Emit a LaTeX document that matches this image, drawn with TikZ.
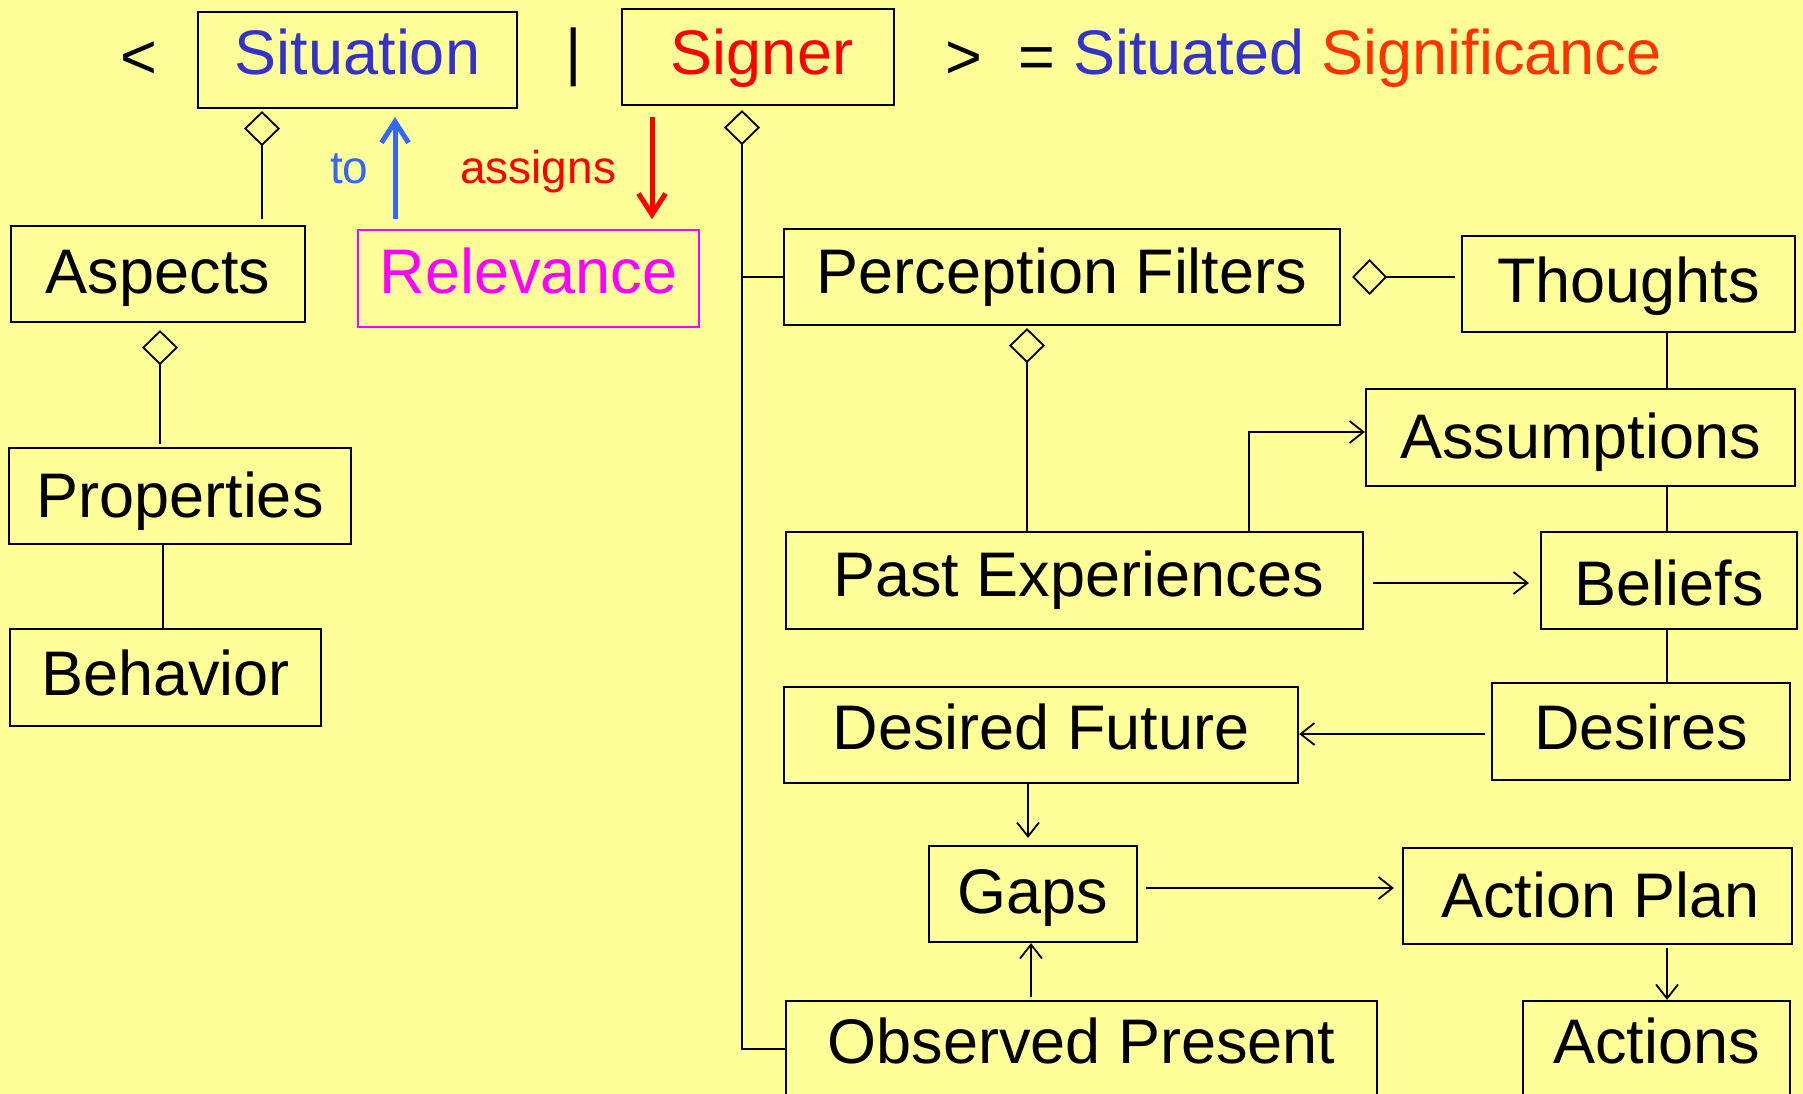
\documentclass[tikz,border=0pt]{standalone}
\usepackage{fontspec}
\setmainfont{Liberation Sans}
\usetikzlibrary{arrows.meta}
\definecolor{bg}{HTML}{FFFF99}
\definecolor{sitblue}{HTML}{3333CC}
\definecolor{toblue}{HTML}{3366FF}
\definecolor{sigred}{HTML}{FF0000}
\definecolor{signif}{HTML}{FF3300}
\definecolor{relmag}{HTML}{FF00FF}
\begin{document}
\begin{tikzpicture}[x=1pt,y=-1pt,
  box/.style={draw=black, line width=2.2pt, inner sep=0pt, minimum height=96pt,
              text depth=13pt, text height=#1,
              font=\fontsize{63}{70}\selectfont},
  box/.default=45pt,
  ttl/.style={inner sep=0pt, font=\fontsize{63}{70}\selectfont},
  lbl/.style={inner sep=0pt, font=\fontsize{46}{52}\selectfont},
  conn/.style={line width=1.8pt},
  agg/.style={line width=1.8pt, {Diamond[open, length=35pt, width=36pt, line width=1.8pt]}-},
  arr/.style={line width=1.8pt, -{Straight Barb[length=14pt, width=22pt, line width=1.8pt]}},
  bigarr/.style={line width=5pt, -{Straight Barb[length=21pt, width=27pt, line width=5pt]}}
]
\useasboundingbox (0,0) rectangle (1803,1094);
\clip (0,0) rectangle (1803,1094);
\fill[bg] (0,0) rectangle (1803,1094);

% title row
\node[ttl, anchor=base] (lt) at (139,79) {<};
\node[box=43pt, minimum width=319pt, text=sitblue] (sit) at (357.5,60) {Situation};
\node[ttl, anchor=base] (bar) at (574,74) {|};
\node[box=49pt, minimum width=272pt, text=sigred] (sig) at (758,57) {\hspace*{8pt}Signer};
\node[ttl, anchor=base] (gt) at (964,79) {>};
\node[ttl, anchor=base] (eq) at (1037,79) {=};
\node[ttl, anchor=base west] (ss) at (1073,75) {\textcolor{sitblue}{Situated} \textcolor{signif}{Significance}};

% left column
\node[box=51pt, minimum width=294pt] (asp) at (158,274) {Aspects};
\node[box=55pt, minimum width=342pt] (prop) at (180,496) {Properties};
\node[box=49pt, minimum width=311pt, minimum height=97pt] (beh) at (165.5,677.5) {Behavior};

% relevance
\node[box=43pt, minimum width=341pt, minimum height=97pt, draw=relmag, line width=1.6pt, text=relmag] (rel) at (528.5,278.5) {Relevance};
\node[lbl, anchor=base west, text=toblue] (to) at (330,184) {to};
\node[lbl, anchor=base west, text=sigred] (asg) at (460,184) {assigns};

% right part
\node[box=45pt, minimum width=556pt] (pf) at (1062,277) {Perception Filters};
\node[box=49pt, minimum width=333pt] (th) at (1628.5,284) {Thoughts};
\node[box=55pt, minimum width=429pt, minimum height=97pt] (as) at (1580.5,437.5) {Assumptions};
\node[box=45pt, minimum width=577pt, minimum height=97pt] (pe) at (1074.5,580.5) {\hspace*{8pt}Past Experiences};
\node[box=63pt, minimum width=256pt, minimum height=97pt] (bel) at (1669,580.5) {Beliefs};
\node[box=41pt, minimum width=514pt] (df) at (1041,735) {Desired Future};
\node[box=49pt, minimum width=298pt, minimum height=97pt] (des) at (1641,731.5) {Desires};
\node[box=51pt, minimum width=208pt] (gaps) at (1033,894) {Gaps};
\node[box=55pt, minimum width=389pt] (ap) at (1597.5,896) {\hspace*{6pt}Action Plan};
\node[box=41pt, minimum width=591pt] (obs) at (1081.5,1049) {Observed Present};
\node[box=41pt, minimum width=267pt] (act) at (1656.5,1049) {Actions};

% left connectors
\draw[agg, shorten <=2pt, shorten >=6pt] (sit.south -| 262,0) -- (asp.north -| 262,0);
\draw[agg, shorten <=7pt, shorten >=3pt] (asp.south -| 160,0) -- (prop.north -| 160,0);
\draw[conn] (prop.south -| 163,0) -- (beh.north -| 163,0);

% relevance arrows
\draw[bigarr, toblue, shorten <=10pt, shorten >=8pt] (rel.north -| 395,0) -- (sit.south -| 395,0);
\draw[bigarr, sigred, shorten <=11pt, shorten >=10pt] (sig.south -| 652,0) -- (rel.north -| 652,0);

% signer trunk
\draw[agg, shorten <=4pt] (sig.south -| 742,0) |- (obs.west);
\coordinate (pfj) at (742,277);
\draw[conn] (pfj) -- (pf.west);

% perception filters aggregation
\draw[agg, shorten <=11pt, shorten >=6pt] (pf.east) -- (th.west |- pf.east);
\draw[agg, shorten <=2pt] (pf.south -| 1027,0) -- (pe.north -| 1027,0);

% vertical chain
\draw[conn] (th.south -| 1667,0) -- (as.north -| 1667,0);
\draw[conn] (as.south -| 1667,0) -- (bel.north -| 1667,0);
\draw[conn] (bel.south -| 1667,0) -- (des.north -| 1667,0);

% arrows
\draw[arr] (pe.north -| 1249,0) |- (as.west |- 0,432);
\draw[arr, shorten <=9pt, shorten >=11pt] (pe.east |- 0,583) -- (bel.west |- 0,583);
\draw[arr, shorten <=6pt] (des.west |- 0,734) -- (df.east |- 0,734);
\draw[arr, shorten >=7pt] (df.south -| 1028,0) -- (gaps.north -| 1028,0);
\draw[arr, shorten <=3pt] (obs.north -| 1031,0) -- (gaps.south -| 1031,0);
\draw[arr, shorten <=8pt, shorten >=8pt] (gaps.east |- 0,888) -- (ap.west |- 0,888);
\draw[arr, shorten <=3pt] (ap.south -| 1667,0) -- (act.north -| 1667,0);
\end{tikzpicture}
\end{document}
